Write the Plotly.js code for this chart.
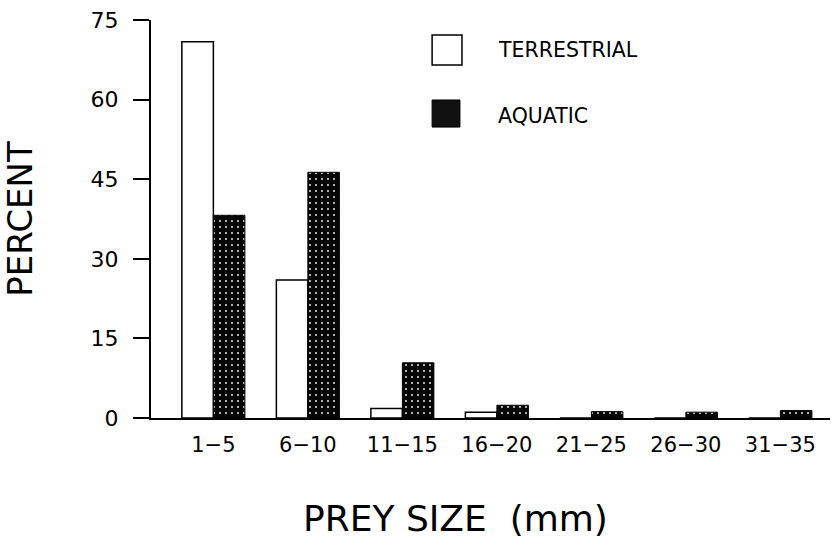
<!DOCTYPE html>
<html>
<head>
<meta charset="utf-8">
<script src="https://cdn.plot.ly/plotly-3.0.1.min.js"></script>
<style>html,body{margin:0;padding:0;background:#fff;}#chart{width:833px;height:548px;}</style>
</head>
<body>
<div id="chart"></div>
<script>
// Data
const categories = ["1−5", "6−10", "11−15", "16−20", "21−25", "26−30", "31−35"];
const terrestrial = [70.9, 26.0, 1.8, 1.1, 0, 0, 0];
const aquatic = [38.2, 46.3, 10.4, 2.4, 1.2, 1.1, 1.4];
const seriesNames = ["TERRESTRIAL", "AQUATIC"];
const yTicks = [0, 15, 30, 45, 60, 75];
const xTitle = "PREY SIZE  (mm)";
const yTitle = "PERCENT";

const FONT = "DejaVu Sans, Liberation Sans, Arial, sans-serif";

const traces = [
  {
    type: "bar", name: seriesNames[0], x: categories, y: terrestrial,
    marker: {color: "#ffffff", line: {color: "#000", width: 1.5}},
    showlegend: false, hoverinfo: "skip"
  },
  {
    type: "bar", name: seriesNames[1], x: categories, y: aquatic,
    marker: {
      color: "#000",
      line: {color: "#000", width: 1},
      pattern: {shape: ".", bgcolor: "#050505", fgcolor: "#ffffff", size: 6, solidity: 0.07, fillmode: "replace"}
    },
    showlegend: false, hoverinfo: "skip"
  }
];

const layout = {
  width: 833, height: 548,
  margin: {l: 151, r: 3, t: 20, b: 130},
  paper_bgcolor: "#fff", plot_bgcolor: "#fff",
  font: {family: FONT, color: "#000"},
  barmode: "group", bargap: 0.333, bargroupgap: 0,
  xaxis: {
    type: "category",
    range: [-0.66, 6.525],
    showline: true, linecolor: "#000", linewidth: 2,
    ticks: "", showgrid: false, zeroline: false,
    tickfont: {size: 21, family: FONT},
    ticklabelstandoff: 7
  },
  yaxis: {
    range: [0, 75],
    tickvals: yTicks, ticktext: yTicks.map(String),
    showline: true, linecolor: "#000", linewidth: 2,
    ticks: "outside", ticklen: 16, tickwidth: 2, tickcolor: "#000",
    showgrid: false, zeroline: false,
    tickfont: {size: 22, family: FONT},
    ticklabelstandoff: 10,
    title: {text: yTitle, font: {size: 34, family: FONT}, standoff: 48}
  },
  shapes: [
    {type: "rect", xref: "paper", yref: "paper", x0: 0.414, x1: 0.458, y0: 0.887, y1: 0.962,
     line: {color: "#000", width: 1.5}, fillcolor: "#fff"},
    {type: "rect", xref: "paper", yref: "paper", x0: 0.414, x1: 0.455, y0: 0.731, y1: 0.799,
     line: {color: "#000", width: 1}, fillcolor: "#111"}
  ],
  annotations: [
    {xref: "paper", yref: "paper", x: 0.508, y: 0.925, xanchor: "left", yanchor: "middle",
     text: seriesNames[0], showarrow: false, font: {size: 20.5, family: FONT}},
    {xref: "paper", yref: "paper", x: 0.508, y: 0.759, xanchor: "left", yanchor: "middle",
     text: seriesNames[1], showarrow: false, font: {size: 20.5, family: FONT}},
    {xref: "paper", yref: "paper", x: 0.448, y: -0.252, xanchor: "center", yanchor: "middle",
     text: xTitle, showarrow: false, font: {size: 36, family: FONT}}
  ]
};

Plotly.newPlot("chart", traces, layout, {staticPlot: true, displayModeBar: false});
</script>
</body>
</html>
